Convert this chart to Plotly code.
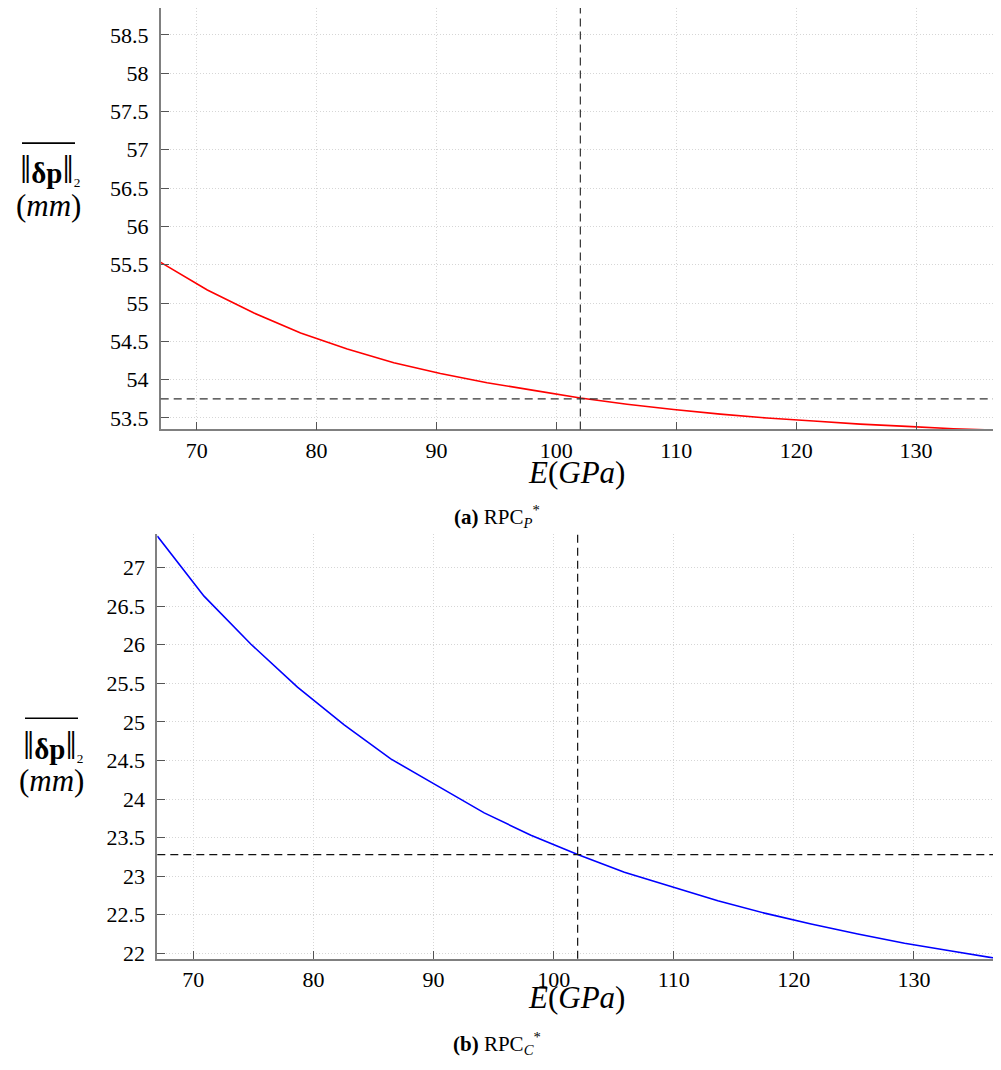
import plotly.graph_objects as go

# ---------------- data ----------------
E = [67.0, 70.89, 74.78, 78.67, 82.56, 86.44, 90.33, 94.22, 98.11, 102.0,
     105.89, 109.78, 113.67, 117.56, 121.44, 125.33, 129.22, 133.11, 137.0]
dp_rpc_p = [55.53, 55.17, 54.87, 54.61, 54.40, 54.22, 54.08, 53.96, 53.86, 53.76,
            53.68, 53.61, 53.55, 53.50, 53.46, 53.42, 53.39, 53.36, 53.34]
dp_rpc_c = [27.41, 26.63, 26.01, 25.45, 24.96, 24.52, 24.17, 23.82, 23.53, 23.28,
            23.05, 22.86, 22.68, 22.52, 22.38, 22.25, 22.13, 22.03, 21.93]
E_ref = 102.0
ref_p = 53.75
ref_c = 23.28
x_ticks = [70, 80, 90, 100, 110, 120, 130]
x_range = [67, 137]
y_range_p = [53.35, 58.85]
y_range_c = [21.93, 27.43]

OFF = 8  # page body margin
W, H = 1001 - OFF, 1070 - 2 * OFF
SERIF = "Liberation Serif"

fig = go.Figure()
fig.add_trace(go.Scatter(x=E, y=dp_rpc_p, mode="lines", line=dict(color="#ff0000", width=1.6),
                         xaxis="x", yaxis="y", showlegend=False))
fig.add_trace(go.Scatter(x=E, y=dp_rpc_c, mode="lines", line=dict(color="#0000ff", width=1.6),
                         xaxis="x2", yaxis="y2", showlegend=False))


def px_x(v):
    return min(1.0, max(0.0, (v - OFF) / W))


def px_y(v):
    return min(1.0, max(0.0, 1 - (v - OFF) / H))


common = dict(showline=True, linecolor="#808080", linewidth=1.6,
              ticks="inside", ticklen=8, tickcolor="#555555", tickwidth=1.2,
              showgrid=True, gridcolor="#d6d6d6", griddash="1px,2px", gridwidth=1,
              zeroline=False, mirror=False,
              tickfont=dict(family=SERIF, size=22, color="black"))

fig.update_layout(
    width=W, height=H,
    font=dict(family=SERIF, color="black"),
    margin=dict(l=0, r=0, t=0, b=0),
    paper_bgcolor="white", plot_bgcolor="white",
    xaxis=dict(domain=[px_x(160.7), px_x(1000)], range=x_range, tickvals=x_ticks,
               anchor="y", **common),
    yaxis=dict(domain=[px_y(432.3), px_y(8)], range=y_range_p, dtick=0.5, tick0=53.5,
               anchor="x", ticklabelstandoff=6, **common),
    xaxis2=dict(domain=[px_x(157.3), px_x(998)], range=x_range, tickvals=x_ticks,
                anchor="y2", **common),
    yaxis2=dict(domain=[px_y(965), px_y(538)], range=y_range_c, dtick=0.5, tick0=22,
                anchor="x2", ticklabelstandoff=6, **common),
)

# reference lines
dash = "8px,5px"
fig.add_shape(type="line", xref="x", yref="y domain", x0=E_ref, x1=E_ref, y0=0, y1=1,
              line=dict(color="#333333", width=1.2, dash=dash))
fig.add_shape(type="line", xref="x domain", yref="y", x0=0, x1=1, y0=ref_p, y1=ref_p,
              line=dict(color="#333333", width=1.2, dash=dash))
fig.add_shape(type="line", xref="x2", yref="y2 domain", x0=E_ref, x1=E_ref, y0=0, y1=1,
              line=dict(color="#111111", width=1.2, dash=dash))
fig.add_shape(type="line", xref="x2 domain", yref="y2", x0=0, x1=1, y0=ref_c, y1=ref_c,
              line=dict(color="#111111", width=1.2, dash=dash))

ann = []
# x axis titles
for cy in (476, 1004):
    ann.append(dict(text="<i>E</i>(<i>GPa</i>)", x=px_x(576), y=px_y(cy), xref="paper", yref="paper",
                    showarrow=False, xanchor="center", yanchor="middle",
                    font=dict(family=SERIF, size=31, color="black")))

# y labels: ||δp||_2 with overline, (mm)
norm_txt = ("<span style='font-size:40px'>‖</span><b>δp</b>"
            "<span style='font-size:40px'>‖</span><span style='font-size:19px'><sub>2</sub></span>")
for top, cx in ((144, 48), (723, 51)):
    ann.append(dict(text=norm_txt, x=px_x(cx + 2), y=px_y(top + 27), xref="paper", yref="paper",
                    showarrow=False, xanchor="center", yanchor="middle",
                    font=dict(family=SERIF, size=29, color="black")))
    ann.append(dict(text="(<i>mm</i>)", x=px_x(cx), y=px_y(top + 63), xref="paper", yref="paper",
                    showarrow=False, xanchor="center", yanchor="middle",
                    font=dict(family=SERIF, size=31, color="black")))
    fig.add_shape(type="line", xref="paper", yref="paper",
                  x0=px_x(cx - 26), x1=px_x(cx + 27), y0=px_y(top), y1=px_y(top),
                  line=dict(color="black", width=1.6))

# captions
ann.append(dict(text="<b>(a)</b> RPC<sub><i>P</i></sub><sup>*</sup>", x=px_x(497), y=px_y(520),
                xref="paper", yref="paper", showarrow=False, xanchor="center", yanchor="middle",
                font=dict(family=SERIF, size=21, color="black")))
ann.append(dict(text="<b>(b)</b> RPC<sub><i>C</i></sub><sup>*</sup>", x=px_x(497), y=px_y(1050),
                xref="paper", yref="paper", showarrow=False, xanchor="center", yanchor="middle",
                font=dict(family=SERIF, size=21, color="black")))

fig.update_layout(annotations=ann)
fig.write_html("out.html", config={"displayModeBar": False})
